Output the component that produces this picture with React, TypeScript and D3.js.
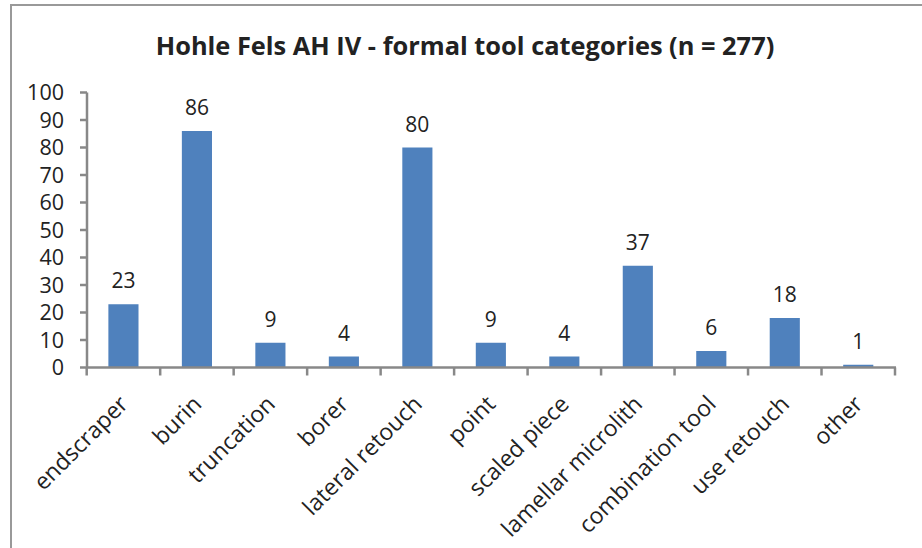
import React from "react";
import * as d3 from "d3";

const categories = [
  "endscraper",
  "burin",
  "truncation",
  "borer",
  "lateral retouch",
  "point",
  "scaled piece",
  "lamellar microlith",
  "combination tool",
  "use retouch",
  "other",
];
const counts = [23, 86, 9, 4, 80, 9, 4, 37, 6, 18, 1];
const yTicks = [0, 10, 20, 30, 40, 50, 60, 70, 80, 90, 100];
const title = "Hohle Fels AH IV - formal tool categories (n = 277)";

const W = 922;
const H = 548;
const FONT = "'Open Sans', 'Noto Sans', sans-serif";

export default function App() {
  const x = d3
    .scaleBand<string>()
    .domain(categories)
    .range([86.7, 895])
    .paddingInner(0.59)
    .paddingOuter(0.295);
  const y = d3.scaleLinear().domain([0, 100]).range([367.5, 92.5]);
  const step = x.step();
  const axisColor = "#888888";
  const barColor = "#4F81BD";

  return (
    <svg
      width={W}
      height={H}
      style={{ position: "absolute", left: 0, top: 0, background: "#fff" }}
    >
      <rect x={0} y={0} width={W} height={H} fill="#fff" />
      {/* frame */}
      <path d={`M11,${H + 5} L11,5 L${W + 5},5`} fill="none" stroke="#999" strokeWidth={2} />
      {/* title */}
      <text
        x={465}
        y={55}
        textAnchor="middle"
        fontFamily={FONT}
        fontWeight="bold"
        fontSize={25.4}
        fill="#222"
      >
        {title}
      </text>
      {/* bars */}
      {categories.map((c, i) => (
        <rect
          key={c}
          x={x(c)}
          y={y(counts[i])}
          width={x.bandwidth()}
          height={y(0) - y(counts[i])}
          fill={barColor}
        />
      ))}
      {/* data labels */}
      {categories.map((c, i) => (
        <text
          key={c + "l"}
          x={(x(c) as number) + x.bandwidth() / 2}
          y={y(counts[i]) - 16}
          textAnchor="middle"
          fontFamily={FONT}
          fontSize={21}
          fill="#222"
        >
          {counts[i]}
        </text>
      ))}
      {/* y axis */}
      <line x1={87} x2={87} y1={y(100)} y2={y(0)} stroke={axisColor} strokeWidth={2.5} />
      {yTicks.map((t) => (
        <g key={t}>
          <line x1={80} x2={87} y1={y(t)} y2={y(t)} stroke={axisColor} strokeWidth={2.5} />
          <text
            x={64}
            y={y(t)}
            dy="0.36em"
            textAnchor="end"
            fontFamily={FONT}
            fontSize={21.5}
            fill="#222"
          >
            {t}
          </text>
        </g>
      ))}
      {/* x axis */}
      <line x1={86} x2={896} y1={y(0)} y2={y(0)} stroke={axisColor} strokeWidth={2.5} />
      {d3.range(categories.length + 1).map((i) => {
        const px = 86.7 + i * step;
        return (
          <line key={i} x1={px} x2={px} y1={y(0)} y2={y(0) + 8} stroke={axisColor} strokeWidth={2.5} />
        );
      })}
      {categories.map((c) => {
        const cx = (x(c) as number) + x.bandwidth() / 2;
        return (
          <text
            key={c + "x"}
            transform={`translate(${cx + 6},${y(0) + 38}) rotate(-45)`}
            textAnchor="end"
            fontFamily={FONT}
            fontSize={23}
            fill="#222"
          >
            {c}
          </text>
        );
      })}
    </svg>
  );
}
